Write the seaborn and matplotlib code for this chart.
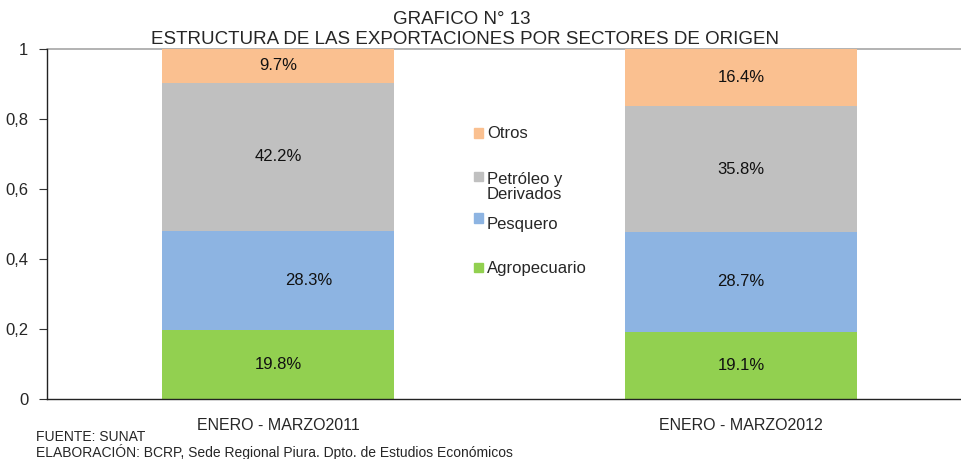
import numpy as np
import pandas as pd
import matplotlib
matplotlib.use('Agg')
import matplotlib.pyplot as plt
from matplotlib.patches import Rectangle
import seaborn as sns

periodos = ['ENERO - MARZO2011', 'ENERO - MARZO2012']
sectores = ['Agropecuario', 'Pesquero', 'Petróleo y\nDerivados', 'Otros']
agropecuario = [19.8, 19.1]
pesquero = [28.3, 28.7]
petroleo = [42.2, 35.8]
otros = [9.7, 16.4]
colores = ['#92D050', '#8DB4E2', '#C0C0C0', '#FAC090']

sns.set_style('white')
plt.rcParams['font.family'] = ['Liberation Sans', 'DejaVu Sans']

fig = plt.figure(figsize=(9.62, 4.59), dpi=100)
# axes goes a bit past the right edge, like the original
ax = fig.add_axes([46.5 / 962, 1 - 399 / 459, 926 / 962, 350 / 459])

valores = np.array([agropecuario, pesquero, petroleo, otros]) / 100
acumulado = valores.cumsum(axis=0)

# stacked bars: draw cumulative totals from the top down
for i in range(len(sectores) - 1, -1, -1):
    df = pd.DataFrame({'periodo': periodos, 'valor': acumulado[i]})
    sns.barplot(data=df, x='periodo', y='valor', color=colores[i], width=0.5,
                saturation=1, ax=ax, linewidth=0)

# percentage labels in the middle of each segment
desplaz = {(1, 0): 0.067}
for i in range(len(sectores)):
    for j in range(len(periodos)):
        y = acumulado[i, j] - valores[i, j] / 2
        x = j + desplaz.get((i, j), 0)
        ax.text(x, y, f'{valores[i, j] * 100:.1f}%', ha='center', va='center',
                fontsize=12, color='#111111')

ax.set_xlim(-0.5, 1.5)
ax.set_ylim(0, 1)
ax.set_yticks([0, 0.2, 0.4, 0.6, 0.8, 1])
ax.set_yticklabels(['0', '0,2', '0,4', '0,6', '0,8', '1'], fontsize=12)
ax.set_xticks([0, 1])
ax.set_xticklabels(periodos, fontsize=11.5)
ax.set_xticks([0.5], minor=True)
ax.tick_params(axis='x', which='major', length=0, pad=14)
ax.tick_params(axis='x', which='minor', length=5, width=0.8, color='#555555', direction='out')
ax.tick_params(axis='y', length=6, width=0.8, color='#333333', direction='out', left=True, pad=7)
ax.set_xlabel('')
ax.set_ylabel('')
for s in ['top', 'right']:
    ax.spines[s].set_visible(False)
ax.spines['left'].set_color('#222222')
ax.spines['bottom'].set_color('#222222')
ax.spines['left'].set_linewidth(1)
ax.spines['bottom'].set_linewidth(1)
ax.axhline(1, color='#A6A6A6', lw=1.2, zorder=0, clip_on=False)

# titles
fig.text(462 / 962, 1 - 19 / 459, 'GRAFICO N° 13', ha='center', va='center', fontsize=13.5)
fig.text(465 / 962, 1 - 40 / 459, 'ESTRUCTURA DE LAS EXPORTACIONES POR SECTORES DE ORIGEN',
         ha='center', va='center', fontsize=13.5)

# legend, drawn by hand to match spacing
leg_y = [268, 224, 187, 134]
mark_y = [267, 218, 177, 133]
for i in range(len(sectores)):
    fig.patches.append(Rectangle((474 / 962, 1 - (mark_y[i] + 4.5) / 459), 9 / 962, 9 / 459,
                                 transform=fig.transFigure, color=colores[i]))
    fig.text(487 / 962, 1 - leg_y[i] / 459, sectores[i], ha='left', va='center',
             fontsize=12, linespacing=1.05)

# footer
fig.text(36 / 962, 1 - 437 / 459, 'FUENTE: SUNAT', ha='left', va='center', fontsize=10)
fig.text(36 / 962, 1 - 452 / 459,
         'ELABORACIÓN: BCRP, Sede Regional Piura. Dpto. de Estudios Económicos',
         ha='left', va='center', fontsize=10)

fig.savefig('out.png', dpi=100)
